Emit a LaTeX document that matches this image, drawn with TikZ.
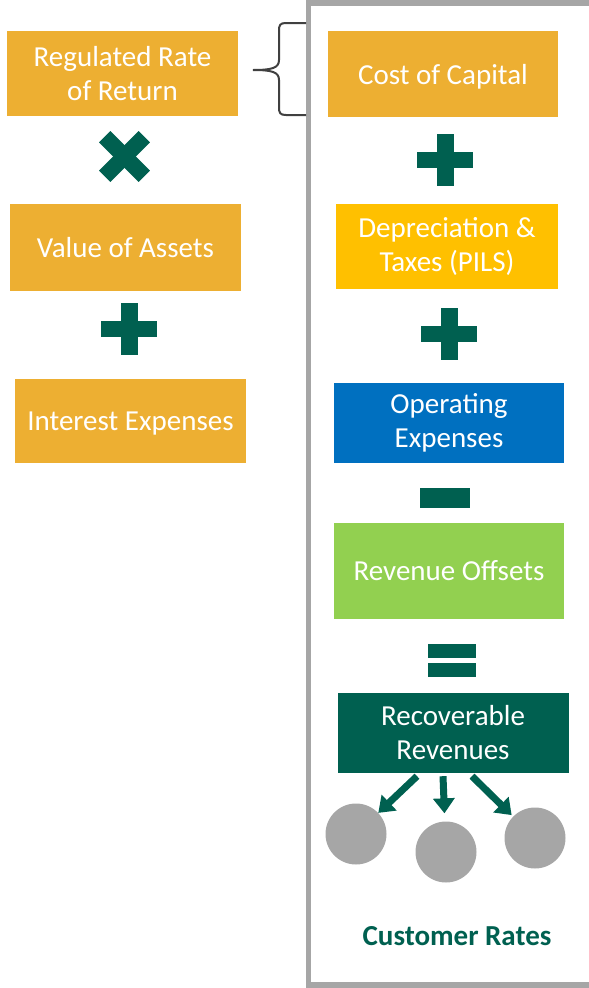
\documentclass[tikz,border=0pt]{standalone}
\usepackage{fontspec}
\setmainfont{Carlito}
\usepackage{tikz}
\usetikzlibrary{arrows.meta, positioning}
\definecolor{goldbox}{RGB}{237,175,50}
\definecolor{yellowbox}{RGB}{255,192,0}
\definecolor{bluebox}{RGB}{0,112,192}
\definecolor{limebox}{RGB}{146,208,80}
\definecolor{opgreen}{RGB}{0,96,80}
\definecolor{dotgray}{RGB}{166,166,166}
\definecolor{bracegray}{RGB}{64,64,64}
\newcommand{\boxfont}{\fontsize{29}{34}\selectfont}
\tikzset{
  blk/.style    = {text=white, align=center, inner sep=0pt, font=\boxfont},
  one/.style    = {text depth=0pt},
  gold/.style   = {blk, fill=goldbox},
  opbar/.style  = {fill=opgreen, inner sep=0pt},
  dot/.style    = {circle, fill=dotgray, inner sep=0pt, minimum size=61pt},
  fat/.style    = {-{Triangle[length=15pt, width=21pt]}, line width=7pt, draw=opgreen},
  frame/.style  = {draw=dotgray, line width=5.5pt},
  brc/.style    = {draw=bracegray, line width=2pt},
}

\begin{document}
\begin{tikzpicture}[x=1pt, y=-1pt]
\useasboundingbox (0,0) rectangle (589,988);
\draw[frame] (595,3) -- (308.5,3) -- (308.5,985) -- (595,985);

% left column
\node[gold, minimum width=231pt, minimum height=85pt] (reg) at (122.5,73.5) {Regulated Rate\\of Return};
\node[gold, one, minimum width=231pt, minimum height=87pt] (val) at (125.5,247.5) {Value of Assets};
\node[gold, one, minimum width=231pt, minimum height=84pt] (int) at (130.5,421) {Interest Expenses};

% right column
\node[gold, one, minimum width=230pt, minimum height=86pt] (cap) at (443,74) {Cost of Capital};
\node[blk, fill=yellowbox, minimum width=222pt, minimum height=85pt] (dep) at (447,246.5) {Depreciation \&\\Taxes (PILS)};
\node[blk, fill=bluebox, minimum width=230pt, minimum height=80pt] (opx) at (449,423) {Operating\\Expenses};
\node[blk, one, fill=limebox, minimum width=230pt, minimum height=96pt] (rev) at (449,570.5) {Revenue Offsets};
\node[blk, fill=opgreen, minimum width=231pt, minimum height=80pt] (rec) at (453,733) {Recoverable\\Revenues};

% operators
\foreach \r in {45,-45}
  \node[opbar, rotate=\r, minimum width=56pt, minimum height=16pt] (times\r) at (124.5,156.5) {};
\foreach \n/\p in {pa/{129,329}, pb/{445,160}, pc/{449,334}} {
  \node[opbar, minimum width=56pt, minimum height=16pt] (\n h) at (\p) {};
  \node[opbar, minimum width=17pt, minimum height=52pt] (\n v) at (\p) {};
}
\node[opbar, minimum width=50pt, minimum height=20pt] (minus) at (445,498) {};
\node[opbar, minimum width=48pt, minimum height=14pt] (eqa) at (452,651) {};
\node[opbar, minimum width=48pt, minimum height=14pt] (eqb) at (452,670) {};

% brace
\draw[brc] (306,23) -- (286,23) .. controls (280,23) and (279,25) .. (279,31) -- (279,60)
  .. controls (279,68) and (272,70) .. (253,70)
  .. controls (272,70) and (279,72) .. (279,80) -- (279,107)
  .. controls (279,113) and (280,115) .. (286,115) -- (306,115);

% customer rates
\node[dot] (c1) at (356,834) {};
\node[dot] (c2) at (446,852) {};
\node[dot] (c3) at (535,838) {};
\draw[fat] ([xshift=-36pt, yshift=-3pt]rec.south) -- (c1);
\draw[fat, shorten >=8pt] ([xshift=-10pt, yshift=-3pt]rec.south) -- (c2);
\draw[fat, shorten >=2pt] ([xshift=19pt, yshift=-3pt]rec.south) -- (c3);
\node[font=\fontsize{29}{34}\selectfont\bfseries, text=opgreen] (crt) at (457,936) {Customer Rates};
\end{tikzpicture}
\end{document}
